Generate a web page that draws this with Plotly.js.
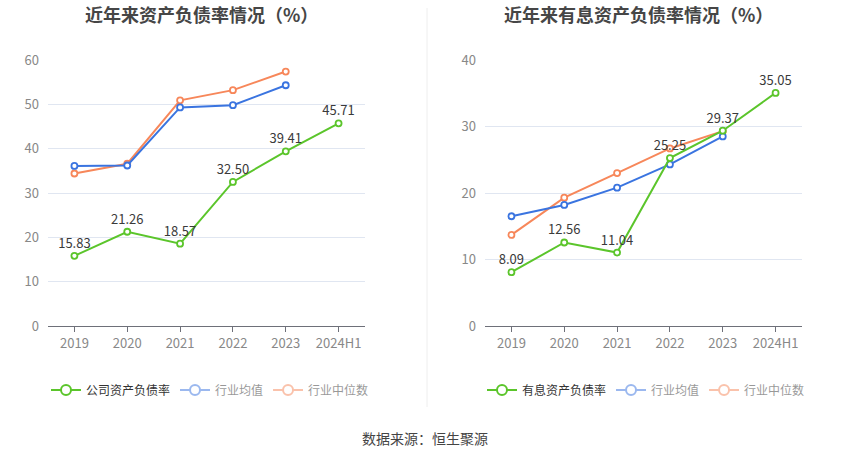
<!DOCTYPE html>
<html>
<head>
<meta charset="utf-8">
<script src="https://cdn.plot.ly/plotly-3.0.1.min.js"></script>
<style>html,body{margin:0;padding:0;background:#fff;}#chart{width:850px;height:459px;}</style>
</head>
<body>
<div id="chart"></div>
<script>
const categories = ['2019', '2020', '2021', '2022', '2023', '2024H1'];
const avgCategories = ['2019', '2020', '2021', '2022', '2023'];

const companyDebt = [15.83, 21.26, 18.57, 32.50, 39.41, 45.71];
const industryAvgDebt = [36.1, 36.2, 49.3, 49.8, 54.3];
const industryMedDebt = [34.4, 36.6, 50.9, 53.2, 57.4];

const companyIntDebt = [8.09, 12.56, 11.04, 25.25, 29.37, 35.05];
const industryAvgIntDebt = [16.5, 18.2, 20.8, 24.3, 28.5];
const industryMedIntDebt = [13.7, 19.3, 23.0, 26.7, 29.3];

const leftTitle = '近年来资产负债率情况（%）';
const rightTitle = '近年来有息资产负债率情况（%）';
const leftNames = ['公司资产负债率', '行业均值', '行业中位数'];
const rightNames = ['有息资产负债率', '行业均值', '行业中位数'];
const sourceText = '数据来源：恒生聚源';

const GREEN = '#5bc52b', BLUE = '#3a74e0', ORANGE = '#f7875a';
const FONT = '"Noto Sans CJK SC", "Noto Sans", sans-serif';

function line(x, y, color, xa, ya, withText) {
  const t = {
    x: x, y: y, xaxis: xa, yaxis: ya, type: 'scatter',
    mode: withText ? 'lines+markers+text' : 'lines+markers',
    line: {color: color, width: 2},
    marker: {symbol: 'circle', size: 6, color: '#fff', line: {color: color, width: 1.8}},
    showlegend: false, hoverinfo: 'skip', cliponaxis: false
  };
  if (withText) {
    t.text = y.map(v => v.toFixed(2));
    t.textposition = 'top center';
    t.textfont = {size: 13, color: '#3a3a3a', family: FONT};
  }
  return t;
}
function legendItem(name, color, legend, visible) {
  return {
    x: [null], y: [null], type: 'scatter', mode: 'lines+markers', name: name,
    legend: legend, visible: visible,
    line: {color: color, width: 2},
    marker: {symbol: 'circle', size: 10, color: '#fff', line: {color: color, width: 2}},
    hoverinfo: 'skip', xaxis: 'x', yaxis: 'y'
  };
}

const data = [
  line(avgCategories, industryMedDebt, ORANGE, 'x', 'y', false),
  line(avgCategories, industryAvgDebt, BLUE, 'x', 'y', false),
  line(categories, companyDebt, GREEN, 'x', 'y', true),
  line(avgCategories, industryMedIntDebt, ORANGE, 'x2', 'y2', false),
  line(avgCategories, industryAvgIntDebt, BLUE, 'x2', 'y2', false),
  line(categories, companyIntDebt, GREEN, 'x2', 'y2', true),
  legendItem(leftNames[0], GREEN, 'legend', true),
  legendItem(leftNames[1], BLUE, 'legend', 'legendonly'),
  legendItem(leftNames[2], ORANGE, 'legend', 'legendonly'),
  legendItem(rightNames[0], GREEN, 'legend2', true),
  legendItem(rightNames[1], BLUE, 'legend2', 'legendonly'),
  legendItem(rightNames[2], ORANGE, 'legend2', 'legendonly')
];

const yDomain = [1 - 326 / 459, 1 - 60 / 459];
function xAxis(domain) {
  return {
    domain: domain, type: 'category', categoryorder: 'array', categoryarray: categories,
    range: [-0.5, 5.5], showgrid: false, zeroline: false,
    showline: true, linecolor: '#6e7079', linewidth: 1,
    ticks: 'outside', ticklen: 5, tickcolor: '#6e7079',
    tickfont: {size: 13, color: '#888', family: FONT}, fixedrange: true
  };
}
function yAxis(range, dtick, anchor) {
  return {
    domain: yDomain, range: range, dtick: dtick, anchor: anchor,
    showgrid: true, gridcolor: '#e0e6f1', gridwidth: 1, zeroline: false,
    showline: false, ticks: '', ticklabelstandoff: 8,
    tickfont: {size: 13, color: '#888', family: FONT}, fixedrange: true
  };
}
const legendBase = {
  orientation: 'h', xanchor: 'center', yanchor: 'middle', y: 1 - 390 / 459,
  font: {size: 12, color: '#333', family: FONT}, bgcolor: 'rgba(0,0,0,0)',
  itemclick: false, itemdoubleclick: false
};

const layout = {
  width: 850, height: 459, margin: {l: 0, r: 0, t: 0, b: 0},
  paper_bgcolor: '#fff', plot_bgcolor: '#fff',
  font: {family: FONT},
  xaxis: Object.assign(xAxis([48 / 850, 365 / 850]), {anchor: 'y'}),
  yaxis: yAxis([0, 60], 10, 'x'),
  xaxis2: Object.assign(xAxis([485 / 850, 802 / 850]), {anchor: 'y2'}),
  yaxis2: yAxis([0, 40], 10, 'x2'),
  legend: Object.assign({}, legendBase, {x: 210 / 850}),
  legend2: Object.assign({}, legendBase, {x: 646 / 850}),
  shapes: [{type: 'line', xref: 'paper', yref: 'paper', x0: 427 / 850, x1: 427 / 850,
            y0: 1 - 407 / 459, y1: 1 - 8 / 459, line: {color: '#eeeeee', width: 1}}],
  annotations: [
    {text: '<b>' + leftTitle + '</b>', xref: 'paper', yref: 'paper', x: 201 / 850, y: 1 - 14 / 459,
     xanchor: 'center', yanchor: 'middle', showarrow: false, font: {size: 18, color: '#464646', family: FONT}},
    {text: '<b>' + rightTitle + '</b>', xref: 'paper', yref: 'paper', x: 638 / 850, y: 1 - 14 / 459,
     xanchor: 'center', yanchor: 'middle', showarrow: false, font: {size: 18, color: '#464646', family: FONT}},
    {text: sourceText, xref: 'paper', yref: 'paper', x: 425 / 850, y: 1 - 438 / 459,
     xanchor: 'center', yanchor: 'middle', showarrow: false, font: {size: 14, color: '#444', family: FONT}}
  ]
};

Plotly.newPlot('chart', data, layout, {displayModeBar: false, staticPlot: true});
</script>
</body>
</html>
